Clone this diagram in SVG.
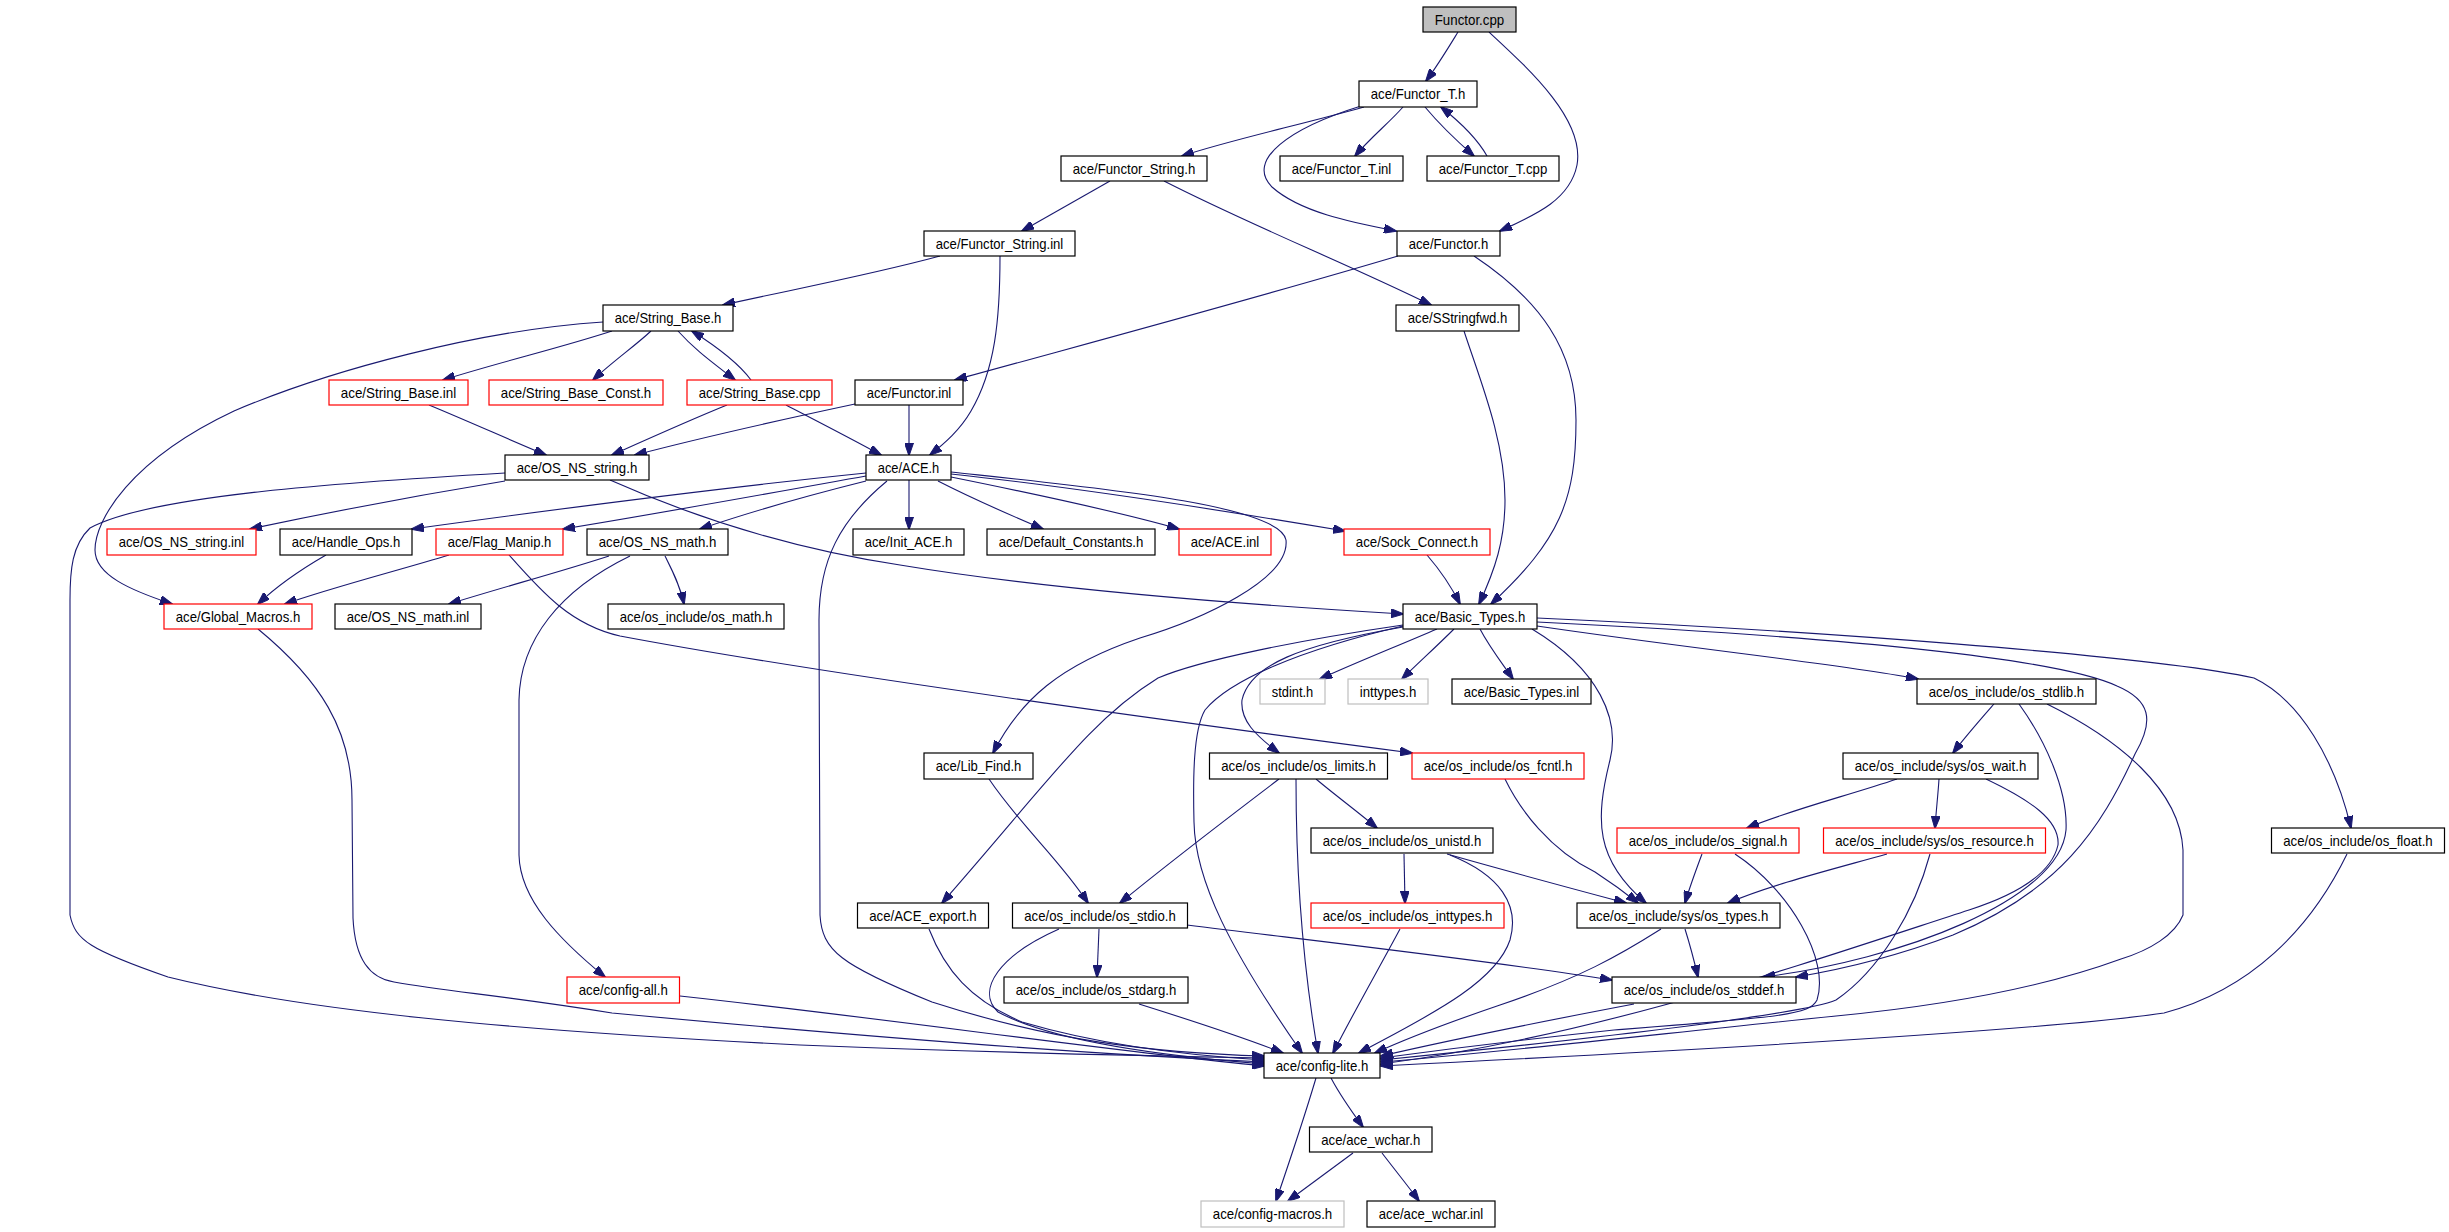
<svg xmlns="http://www.w3.org/2000/svg" width="2449" height="1232" viewBox="0 0 2449 1232">
<style>
.node rect{fill:#fff;stroke:#000;stroke-width:1.2}
.node.red rect{stroke:#ff0000}
.node.gray rect{stroke:#bfbfbf}
.node.root rect{fill:#bfbfbf}
.node text{font-family:"Liberation Sans",Arial,sans-serif;font-size:15px;fill:#000;text-anchor:middle}
.edges path{fill:none;stroke:#191970;stroke-width:1.1;marker-end:url(#arr)}
</style>
<defs>
<marker id="arr" viewBox="0 0 13 9" refX="12" refY="4.5" markerWidth="13" markerHeight="9" markerUnits="userSpaceOnUse" orient="auto">
<path d="M0,0 L13,4.5 L0,9 z" fill="#191970" stroke="#191970" stroke-width="1"/>
</marker>
</defs>
<rect x="0" y="0" width="2449" height="1232" fill="#fff"/>
<g class="edges" id="edges">
<path d="M1458,32 C1450,45 1438,65 1426,81"/>
<path d="M1489,32 C1530,70 1585,120 1577,165 C1570,200 1535,215 1500,231"/>
<path d="M1364,107 C1300,125 1230,140 1182,156"/>
<path d="M1403,107 C1390,122 1370,138 1355,156"/>
<path d="M1425,107 C1440,125 1458,142 1474,156"/>
<path d="M1487,156 C1478,140 1460,122 1441,107"/>
<path d="M1361,106 C1290,128 1245,160 1272,187 C1300,212 1350,222 1396,231"/>
<path d="M1110,181 C1080,198 1050,215 1022,231"/>
<path d="M1164,181 C1250,225 1350,265 1431,305"/>
<path d="M940,256 C870,275 790,290 723,305"/>
<path d="M1000,256 C1000,320 995,370 971,411 C960,430 945,443 930,455"/>
<path d="M1398,256 C1250,300 1100,340 955,380"/>
<path d="M1474,256 C1540,300 1576,350 1576,420 C1576,500 1560,540 1491,604"/>
<path d="M1464,331 C1480,380 1505,440 1505,500 C1505,540 1495,570 1479,604"/>
<path d="M612,331 C560,348 500,362 443,380"/>
<path d="M651,331 C635,346 612,362 593,380"/>
<path d="M678,331 C695,350 712,362 735,380"/>
<path d="M751,380 C740,365 722,350 692,331"/>
<path d="M603,322 C480,330 330,370 234,411 C130,460 95,520 95,550 C95,575 130,590 172,604"/>
<path d="M429,405 C470,422 510,440 546,455"/>
<path d="M727,405 C690,420 650,438 612,455"/>
<path d="M786,405 C815,420 850,438 881,455"/>
<path d="M855,404 C780,420 700,438 635,455"/>
<path d="M909,405 L909,455"/>
<path d="M505,481 C420,495 330,512 250,529"/>
<path d="M610,480 C700,520 800,550 900,565 C1050,590 1250,605 1403,614"/>
<path d="M505,473 C350,482 150,495 90,528 C72,545 70,570 70,600 L70,915 C75,940 90,950 168,977 C300,1010 500,1030 800,1045 C1000,1053 1150,1056 1264,1058"/>
<path d="M866,473 C700,490 550,510 412,529"/>
<path d="M866,476 C760,495 650,515 563,529"/>
<path d="M866,481 C810,495 750,512 700,529"/>
<path d="M909,480 L909,529"/>
<path d="M938,481 C975,500 1010,515 1043,529"/>
<path d="M951,477 C1040,495 1120,512 1179,529"/>
<path d="M951,474 C1100,490 1250,515 1345,531"/>
<path d="M951,472 C1100,488 1280,505 1286,540 C1290,580 1200,620 1140,638 C1060,665 1020,700 993,753"/>
<path d="M887,481 C840,520 819,560 819,620 L820,915 C822,950 840,965 932,1002 C1050,1040 1150,1053 1264,1056"/>
<path d="M609,556 C560,572 500,588 449,604"/>
<path d="M665,556 C672,570 680,585 684,604"/>
<path d="M630,556 C560,590 520,640 519,700 L519,855 C520,900 560,940 605,977"/>
<path d="M326,555 C300,570 278,585 258,604"/>
<path d="M449,555 C400,570 330,588 285,604"/>
<path d="M509,555 C540,590 570,625 620,636 C800,670 1100,712 1412,753"/>
<path d="M258,629 C320,680 352,730 352,800 L353,918 C355,960 370,978 394,982 C450,992 500,995 612,1013 C900,1040 1100,1055 1264,1062"/>
<path d="M1427,555 C1440,570 1452,588 1460,604"/>
<path d="M1437,629 C1400,645 1350,665 1320,679"/>
<path d="M1454,629 C1435,648 1418,663 1402,679"/>
<path d="M1480,629 C1490,648 1502,663 1513,679"/>
<path d="M1537,626 C1700,650 1850,665 1918,679"/>
<path d="M1537,618 C1800,630 2150,655 2254,678 C2300,700 2335,760 2351,828"/>
<path d="M1537,622 C1800,635 2050,655 2117,686 C2150,700 2155,720 2135,754 C2100,830 2060,890 1953,935 C1900,955 1850,968 1796,977"/>
<path d="M1403,627 C1300,645 1250,665 1242,700 C1240,720 1255,735 1279,753"/>
<path d="M1403,625 C1300,640 1200,660 1158,678 C1090,720 1050,780 942,903"/>
<path d="M1403,626 C1300,650 1230,680 1205,710 C1193,730 1193,780 1194,822 C1195,880 1230,950 1302,1053"/>
<path d="M1532,629 C1600,670 1620,720 1610,760 C1595,820 1595,860 1646,903"/>
<path d="M1994,704 C1980,720 1965,737 1953,753"/>
<path d="M2019,704 C2045,740 2068,790 2066,830 C2060,900 1900,960 1763,977"/>
<path d="M1897,779 C1850,795 1790,810 1747,828"/>
<path d="M1939,779 C1938,795 1936,812 1935,828"/>
<path d="M1279,779 C1225,820 1170,862 1120,903"/>
<path d="M1296,779 C1296,850 1300,950 1318,1053"/>
<path d="M1316,779 C1335,795 1358,812 1377,828"/>
<path d="M1505,779 C1520,810 1550,850 1595,872 C1615,885 1628,895 1638,903"/>
<path d="M1404,854 L1405,903"/>
<path d="M1447,854 C1510,872 1570,888 1626,903"/>
<path d="M1450,855 C1500,875 1520,905 1510,940 C1495,985 1420,1020 1359,1053"/>
<path d="M1400,929 C1378,970 1355,1010 1333,1053"/>
<path d="M1661,929 C1620,955 1580,978 1500,1005 C1450,1022 1410,1037 1375,1053"/>
<path d="M1685,929 C1690,945 1694,960 1698,977"/>
<path d="M1634,1004 C1550,1020 1450,1040 1381,1056"/>
<path d="M1702,854 C1696,870 1690,886 1685,903"/>
<path d="M1735,854 C1790,890 1830,960 1817,1000 C1810,1015 1780,1017 1614,1030 C1500,1042 1440,1050 1381,1058"/>
<path d="M1887,854 C1830,870 1770,885 1728,903"/>
<path d="M1930,854 C1915,910 1880,970 1836,1000 C1800,1015 1600,1038 1381,1060"/>
<path d="M2347,854 C2310,930 2250,990 2164,1013 C2050,1030 1700,1050 1381,1066"/>
<path d="M2047,704 C2120,740 2180,790 2183,850 L2183,915 C2175,935 2150,950 2121,959 C2050,985 1950,1005 1836,1016 C1650,1035 1500,1052 1381,1062"/>
<path d="M1986,779 C2030,800 2060,820 2058,845 C2050,880 2000,900 1969,910 C1800,965 1600,1035 1381,1064"/>
<path d="M1099,929 L1097,977"/>
<path d="M1187,925 C1350,945 1500,962 1612,980"/>
<path d="M1059,929 C1000,955 975,990 998,1012 C1050,1040 1150,1055 1264,1064"/>
<path d="M929,929 C945,970 970,1000 1022,1022 C1100,1045 1180,1055 1264,1060"/>
<path d="M1139,1004 C1190,1020 1240,1036 1283,1053"/>
<path d="M680,996 C900,1020 1100,1050 1264,1066"/>
<path d="M989,779 C1020,825 1060,860 1088,903"/>
<path d="M1316,1078 C1305,1115 1290,1160 1276,1201"/>
<path d="M1331,1078 C1340,1095 1352,1112 1363,1127"/>
<path d="M1353,1153 C1330,1170 1308,1186 1288,1201"/>
<path d="M1382,1153 C1395,1170 1408,1186 1419,1201"/>
</g>
<g id="n1" class="node root"><rect x="1423" y="7" width="93" height="25"/><text x="1469.5" y="24.5" textLength="69.5" lengthAdjust="spacingAndGlyphs">Functor.cpp</text></g>
<g id="n2" class="node"><rect x="1359" y="81" width="118" height="26"/><text x="1418" y="99" textLength="94.5" lengthAdjust="spacingAndGlyphs">ace/Functor_T.h</text></g>
<g id="n3" class="node"><rect x="1280" y="156" width="123" height="25"/><text x="1341.5" y="173.5" textLength="99.5" lengthAdjust="spacingAndGlyphs">ace/Functor_T.inl</text></g>
<g id="n4" class="node"><rect x="1427" y="156" width="132" height="25"/><text x="1493" y="173.5" textLength="108.5" lengthAdjust="spacingAndGlyphs">ace/Functor_T.cpp</text></g>
<g id="n5" class="node"><rect x="1061" y="156" width="146" height="25"/><text x="1134" y="173.5" textLength="122.5" lengthAdjust="spacingAndGlyphs">ace/Functor_String.h</text></g>
<g id="n6" class="node"><rect x="1397" y="231" width="103" height="25"/><text x="1448.5" y="248.5" textLength="79.5" lengthAdjust="spacingAndGlyphs">ace/Functor.h</text></g>
<g id="n7" class="node"><rect x="924" y="231" width="151" height="25"/><text x="999.5" y="248.5" textLength="127.5" lengthAdjust="spacingAndGlyphs">ace/Functor_String.inl</text></g>
<g id="n8" class="node"><rect x="1396" y="305" width="123" height="26"/><text x="1457.5" y="323" textLength="99.5" lengthAdjust="spacingAndGlyphs">ace/SStringfwd.h</text></g>
<g id="n9" class="node"><rect x="603" y="305" width="130" height="26"/><text x="668" y="323" textLength="106.5" lengthAdjust="spacingAndGlyphs">ace/String_Base.h</text></g>
<g id="n10" class="node red"><rect x="329" y="380" width="139" height="25"/><text x="398.5" y="397.5" textLength="115.5" lengthAdjust="spacingAndGlyphs">ace/String_Base.inl</text></g>
<g id="n11" class="node red"><rect x="489" y="380" width="174" height="25"/><text x="576" y="397.5" textLength="150.5" lengthAdjust="spacingAndGlyphs">ace/String_Base_Const.h</text></g>
<g id="n12" class="node red"><rect x="687" y="380" width="145" height="25"/><text x="759.5" y="397.5" textLength="121.5" lengthAdjust="spacingAndGlyphs">ace/String_Base.cpp</text></g>
<g id="n13" class="node"><rect x="855" y="380" width="108" height="25"/><text x="909" y="397.5" textLength="84.5" lengthAdjust="spacingAndGlyphs">ace/Functor.inl</text></g>
<g id="n14" class="node"><rect x="505" y="455" width="144" height="25"/><text x="577" y="472.5" textLength="120.5" lengthAdjust="spacingAndGlyphs">ace/OS_NS_string.h</text></g>
<g id="n15" class="node"><rect x="866" y="455" width="85" height="25"/><text x="908.5" y="472.5" textLength="61.5" lengthAdjust="spacingAndGlyphs">ace/ACE.h</text></g>
<g id="n16" class="node red"><rect x="107" y="529" width="149" height="26"/><text x="181.5" y="547" textLength="125.5" lengthAdjust="spacingAndGlyphs">ace/OS_NS_string.inl</text></g>
<g id="n17" class="node"><rect x="280" y="529" width="132" height="26"/><text x="346" y="547" textLength="108.5" lengthAdjust="spacingAndGlyphs">ace/Handle_Ops.h</text></g>
<g id="n18" class="node red"><rect x="436" y="529" width="127" height="26"/><text x="499.5" y="547" textLength="103.5" lengthAdjust="spacingAndGlyphs">ace/Flag_Manip.h</text></g>
<g id="n19" class="node"><rect x="587" y="529" width="141" height="26"/><text x="657.5" y="547" textLength="117.5" lengthAdjust="spacingAndGlyphs">ace/OS_NS_math.h</text></g>
<g id="n20" class="node"><rect x="853" y="529" width="111" height="26"/><text x="908.5" y="547" textLength="87.5" lengthAdjust="spacingAndGlyphs">ace/Init_ACE.h</text></g>
<g id="n21" class="node"><rect x="987" y="529" width="168" height="26"/><text x="1071" y="547" textLength="144.5" lengthAdjust="spacingAndGlyphs">ace/Default_Constants.h</text></g>
<g id="n22" class="node red"><rect x="1179" y="529" width="92" height="26"/><text x="1225" y="547" textLength="68.5" lengthAdjust="spacingAndGlyphs">ace/ACE.inl</text></g>
<g id="n23" class="node red"><rect x="1344" y="529" width="146" height="26"/><text x="1417" y="547" textLength="122.5" lengthAdjust="spacingAndGlyphs">ace/Sock_Connect.h</text></g>
<g id="n24" class="node red"><rect x="164" y="604" width="148" height="25"/><text x="238" y="621.5" textLength="124.5" lengthAdjust="spacingAndGlyphs">ace/Global_Macros.h</text></g>
<g id="n25" class="node"><rect x="335" y="604" width="146" height="25"/><text x="408" y="621.5" textLength="122.5" lengthAdjust="spacingAndGlyphs">ace/OS_NS_math.inl</text></g>
<g id="n26" class="node"><rect x="608" y="604" width="176" height="25"/><text x="696" y="621.5" textLength="152.5" lengthAdjust="spacingAndGlyphs">ace/os_include/os_math.h</text></g>
<g id="n27" class="node"><rect x="1403" y="604" width="134" height="25"/><text x="1470" y="621.5" textLength="110.5" lengthAdjust="spacingAndGlyphs">ace/Basic_Types.h</text></g>
<g id="n28" class="node gray"><rect x="1260" y="679" width="65" height="25"/><text x="1292.5" y="696.5" textLength="41.5" lengthAdjust="spacingAndGlyphs">stdint.h</text></g>
<g id="n29" class="node gray"><rect x="1348" y="679" width="80" height="25"/><text x="1388" y="696.5" textLength="56.5" lengthAdjust="spacingAndGlyphs">inttypes.h</text></g>
<g id="n30" class="node"><rect x="1452" y="679" width="139" height="25"/><text x="1521.5" y="696.5" textLength="115.5" lengthAdjust="spacingAndGlyphs">ace/Basic_Types.inl</text></g>
<g id="n31" class="node"><rect x="1917" y="679" width="179" height="25"/><text x="2006.5" y="696.5" textLength="155.5" lengthAdjust="spacingAndGlyphs">ace/os_include/os_stdlib.h</text></g>
<g id="n32" class="node"><rect x="924" y="753" width="109" height="26"/><text x="978.5" y="771" textLength="85.5" lengthAdjust="spacingAndGlyphs">ace/Lib_Find.h</text></g>
<g id="n33" class="node"><rect x="1209.5" y="753" width="178" height="26"/><text x="1298.5" y="771" textLength="154.5" lengthAdjust="spacingAndGlyphs">ace/os_include/os_limits.h</text></g>
<g id="n34" class="node red"><rect x="1412" y="753" width="172" height="26"/><text x="1498" y="771" textLength="148.5" lengthAdjust="spacingAndGlyphs">ace/os_include/os_fcntl.h</text></g>
<g id="n35" class="node"><rect x="1843" y="753" width="195" height="26"/><text x="1940.5" y="771" textLength="171.5" lengthAdjust="spacingAndGlyphs">ace/os_include/sys/os_wait.h</text></g>
<g id="n36" class="node"><rect x="1311" y="828" width="182" height="25"/><text x="1402" y="845.5" textLength="158.5" lengthAdjust="spacingAndGlyphs">ace/os_include/os_unistd.h</text></g>
<g id="n37" class="node red"><rect x="1617" y="828" width="182" height="25"/><text x="1708" y="845.5" textLength="158.5" lengthAdjust="spacingAndGlyphs">ace/os_include/os_signal.h</text></g>
<g id="n38" class="node red"><rect x="1823.5" y="828" width="222" height="25"/><text x="1934.5" y="845.5" textLength="198.5" lengthAdjust="spacingAndGlyphs">ace/os_include/sys/os_resource.h</text></g>
<g id="n39" class="node"><rect x="2271.5" y="828" width="173" height="25"/><text x="2358" y="845.5" textLength="149.5" lengthAdjust="spacingAndGlyphs">ace/os_include/os_float.h</text></g>
<g id="n40" class="node"><rect x="857.5" y="903" width="131" height="25"/><text x="923" y="920.5" textLength="107.5" lengthAdjust="spacingAndGlyphs">ace/ACE_export.h</text></g>
<g id="n41" class="node"><rect x="1012.5" y="903" width="175" height="25"/><text x="1100" y="920.5" textLength="151.5" lengthAdjust="spacingAndGlyphs">ace/os_include/os_stdio.h</text></g>
<g id="n42" class="node red"><rect x="1311" y="903" width="193" height="25"/><text x="1407.5" y="920.5" textLength="169.5" lengthAdjust="spacingAndGlyphs">ace/os_include/os_inttypes.h</text></g>
<g id="n43" class="node"><rect x="1577" y="903" width="203" height="25"/><text x="1678.5" y="920.5" textLength="179.5" lengthAdjust="spacingAndGlyphs">ace/os_include/sys/os_types.h</text></g>
<g id="n44" class="node red"><rect x="567" y="977" width="112.5" height="26"/><text x="623.25" y="995" textLength="89" lengthAdjust="spacingAndGlyphs">ace/config-all.h</text></g>
<g id="n45" class="node"><rect x="1004" y="977" width="184" height="26"/><text x="1096" y="995" textLength="160.5" lengthAdjust="spacingAndGlyphs">ace/os_include/os_stdarg.h</text></g>
<g id="n46" class="node"><rect x="1612" y="977" width="184" height="26"/><text x="1704" y="995" textLength="160.5" lengthAdjust="spacingAndGlyphs">ace/os_include/os_stddef.h</text></g>
<g id="n47" class="node"><rect x="1264" y="1053" width="116" height="25"/><text x="1322" y="1070.5" textLength="92.5" lengthAdjust="spacingAndGlyphs">ace/config-lite.h</text></g>
<g id="n48" class="node"><rect x="1309.5" y="1127" width="122.5" height="25"/><text x="1370.75" y="1144.5" textLength="99" lengthAdjust="spacingAndGlyphs">ace/ace_wchar.h</text></g>
<g id="n49" class="node gray"><rect x="1201" y="1201" width="143" height="26"/><text x="1272.5" y="1219" textLength="119.5" lengthAdjust="spacingAndGlyphs">ace/config-macros.h</text></g>
<g id="n50" class="node"><rect x="1367" y="1201" width="128" height="26"/><text x="1431" y="1219" textLength="104.5" lengthAdjust="spacingAndGlyphs">ace/ace_wchar.inl</text></g>
</svg>
